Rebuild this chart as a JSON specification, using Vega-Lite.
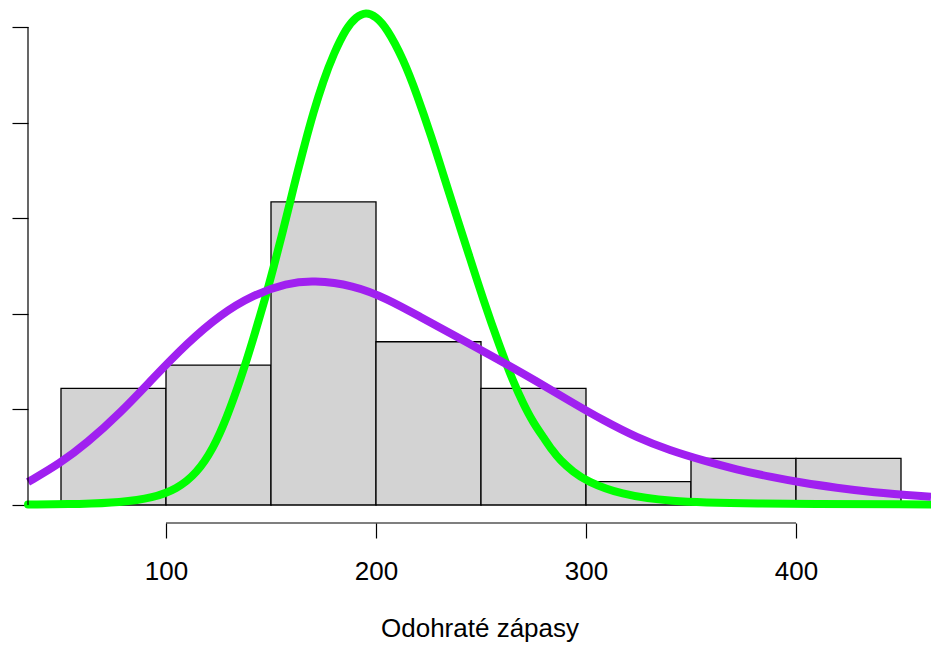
{
  "$schema": "https://vega.github.io/schema/vega-lite/v6.json",
  "width": 903,
  "height": 523,
  "autosize": {"type": "none"},
  "padding": {"left": 28, "top": 0, "right": 0, "bottom": 122},
  "background": "white",
  "config": {
    "view": {"stroke": null},
    "font": "Liberation Sans",
    "axis": {"labelFont": "Liberation Sans", "titleFont": "Liberation Sans", "labelColor": "black", "titleColor": "black", "tickColor": "black", "grid": false}
  },
  "datasets": {
    "hist": [
      {"bin_start": 50, "bin_end": 100, "density": 0.002439},
      {"bin_start": 100, "bin_end": 150, "density": 0.002927},
      {"bin_start": 150, "bin_end": 200, "density": 0.006341},
      {"bin_start": 200, "bin_end": 250, "density": 0.003415},
      {"bin_start": 250, "bin_end": 300, "density": 0.002439},
      {"bin_start": 300, "bin_end": 350, "density": 0.000488},
      {"bin_start": 350, "bin_end": 400, "density": 0.000976},
      {"bin_start": 400, "bin_end": 450, "density": 0.000976}
    ],
    "green": [
      {"x": 34.3, "d": 0.00001},
      {"x": 60.0, "d": 0.00002},
      {"x": 78.1, "d": 0.00005},
      {"x": 94.0, "d": 0.00015},
      {"x": 105.1, "d": 0.00033},
      {"x": 114.6, "d": 0.00066},
      {"x": 122.5, "d": 0.00118},
      {"x": 128.9, "d": 0.00182},
      {"x": 135.7, "d": 0.00265},
      {"x": 141.6, "d": 0.00348},
      {"x": 147.6, "d": 0.00438},
      {"x": 151.1, "d": 0.00495},
      {"x": 155.1, "d": 0.00563},
      {"x": 159.0, "d": 0.00632},
      {"x": 162.2, "d": 0.00690},
      {"x": 166.2, "d": 0.00757},
      {"x": 170.1, "d": 0.00820},
      {"x": 174.9, "d": 0.00887},
      {"x": 179.7, "d": 0.00943},
      {"x": 186.0, "d": 0.00999},
      {"x": 190.5, "d": 0.01021},
      {"x": 195.2, "d": 0.01032},
      {"x": 200.0, "d": 0.01022},
      {"x": 205.1, "d": 0.00998},
      {"x": 213.0, "d": 0.00933},
      {"x": 219.4, "d": 0.00860},
      {"x": 226.5, "d": 0.00769},
      {"x": 232.0, "d": 0.00692},
      {"x": 238.4, "d": 0.00603},
      {"x": 243.9, "d": 0.00528},
      {"x": 251.1, "d": 0.00429},
      {"x": 259.0, "d": 0.00330},
      {"x": 265.4, "d": 0.00257},
      {"x": 270.0, "d": 0.00213},
      {"x": 274.9, "d": 0.00172},
      {"x": 280.0, "d": 0.00140},
      {"x": 283.8, "d": 0.00115},
      {"x": 287.6, "d": 0.00094},
      {"x": 294.0, "d": 0.00069},
      {"x": 300.3, "d": 0.00050},
      {"x": 316.2, "d": 0.00022},
      {"x": 340.0, "d": 0.00007},
      {"x": 371.8, "d": 0.00003},
      {"x": 464.3, "d": 0.00001}
    ],
    "purple": [
      {"x": 34.3, "d": 0.00048},
      {"x": 49.5, "d": 0.00087},
      {"x": 62.2, "d": 0.00129},
      {"x": 78.1, "d": 0.00192},
      {"x": 94.0, "d": 0.00266},
      {"x": 109.9, "d": 0.00338},
      {"x": 125.7, "d": 0.00398},
      {"x": 141.6, "d": 0.00440},
      {"x": 157.5, "d": 0.00464},
      {"x": 170.1, "d": 0.00470},
      {"x": 189.2, "d": 0.00460},
      {"x": 205.1, "d": 0.00432},
      {"x": 220.9, "d": 0.00394},
      {"x": 236.8, "d": 0.00356},
      {"x": 255.9, "d": 0.00310},
      {"x": 276.5, "d": 0.00259},
      {"x": 292.4, "d": 0.00217},
      {"x": 308.2, "d": 0.00177},
      {"x": 324.2, "d": 0.00141},
      {"x": 340.0, "d": 0.00114},
      {"x": 355.9, "d": 0.00093},
      {"x": 371.8, "d": 0.00074},
      {"x": 387.6, "d": 0.00059},
      {"x": 403.5, "d": 0.00046},
      {"x": 419.4, "d": 0.00036},
      {"x": 435.2, "d": 0.00027},
      {"x": 464.3, "d": 0.00017}
    ]
  },
  "layer": [
    {
      "data": {"name": "hist"},
      "mark": {"type": "rect", "fill": "#D3D3D3", "stroke": "black", "strokeWidth": 1.3},
      "encoding": {
        "x": {
          "field": "bin_start", "type": "quantitative",
          "scale": {"domain": [34.2857, 464.2857], "nice": false, "zero": false},
          "axis": {"domain": false, "values": [100, 200, 300, 400], "tickSize": 15, "tickWidth": 1.2, "labelFontSize": 26, "labelPadding": 20, "title": "Odohraté zápasy", "titleFontSize": 26, "titleFontWeight": "normal", "titlePadding": 31, "labelFlush": false}
        },
        "x2": {"field": "bin_end"},
        "y": {
          "field": "density", "type": "quantitative",
          "scale": {"domain": [-0.00037657, 0.0105649], "nice": false, "zero": false},
          "axis": {"domain": false, "values": [0, 0.002, 0.004, 0.006, 0.008, 0.01], "tickSize": 16, "tickWidth": 1.2, "labels": false, "title": null}
        },
        "y2": {"datum": 0}
      }
    },
    {
      "data": {"name": "green"},
      "mark": {"type": "line", "color": "#00FF00", "strokeWidth": 8, "strokeCap": "round", "strokeJoin": "round", "interpolate": "basis", "clip": false},
      "encoding": {
        "x": {"field": "x", "type": "quantitative"},
        "y": {"field": "d", "type": "quantitative"}
      }
    },
    {
      "data": {"name": "purple"},
      "mark": {"type": "line", "color": "#A020F0", "strokeWidth": 8, "strokeCap": "butt", "strokeJoin": "round", "interpolate": "basis", "clip": false},
      "encoding": {
        "x": {"field": "x", "type": "quantitative"},
        "y": {"field": "d", "type": "quantitative"}
      }
    },
    {
      "data": {"values": [{}]},
      "mark": {"type": "rule", "color": "black", "strokeWidth": 1.2},
      "encoding": {
        "x": {"datum": 100, "type": "quantitative"},
        "x2": {"datum": 400},
        "y": {"datum": -0.00037657, "type": "quantitative"}
      }
    },
    {
      "data": {"values": [{}]},
      "mark": {"type": "rule", "color": "black", "strokeWidth": 1.2},
      "encoding": {
        "x": {"datum": 34.2857, "type": "quantitative"},
        "y": {"datum": 0, "type": "quantitative"},
        "y2": {"datum": 0.01}
      }
    }
  ]
}
